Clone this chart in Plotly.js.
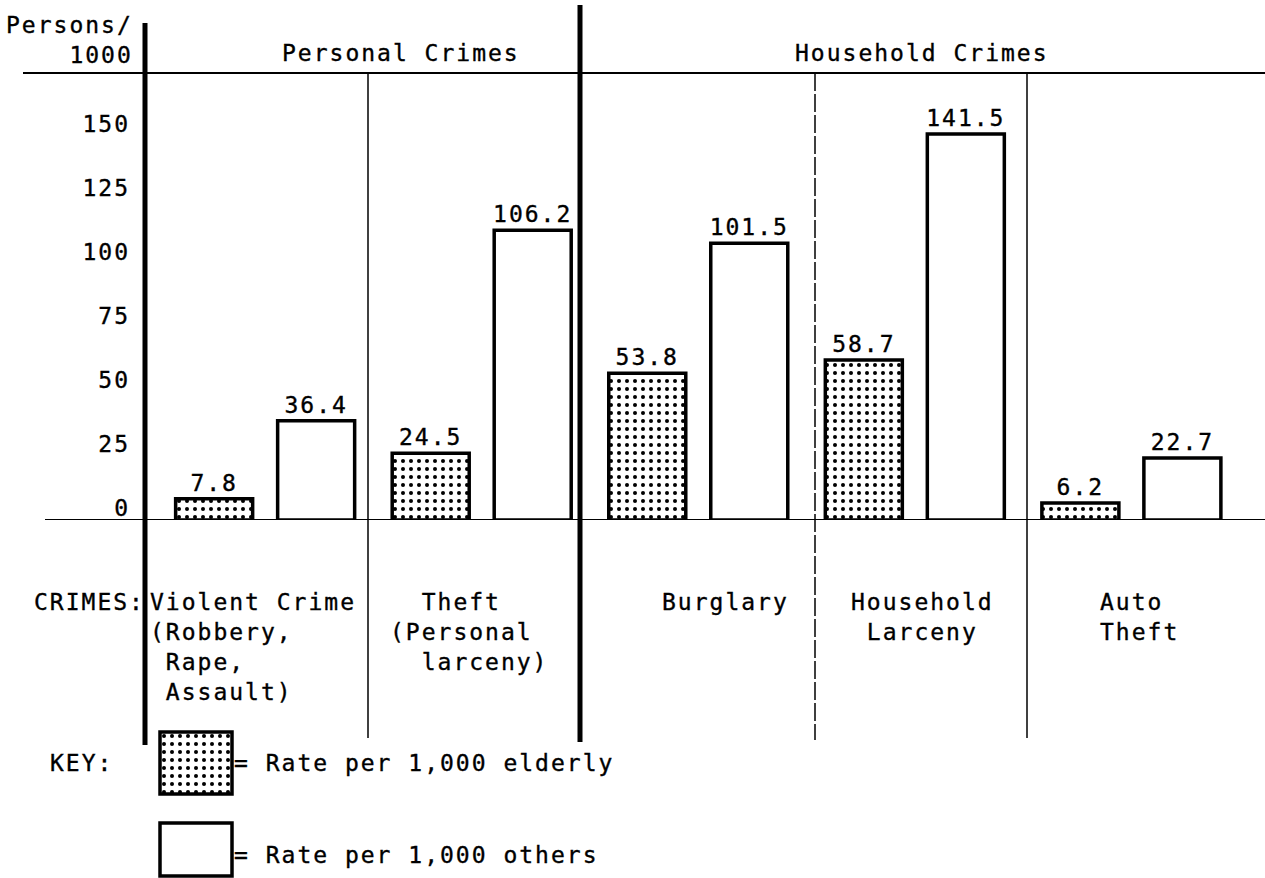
<!DOCTYPE html>
<html><head><meta charset="utf-8">
<script src="https://cdn.plot.ly/plotly-3.0.1.min.js"></script>
<style>
html,body{margin:0;padding:0;background:#fff;}
svg text{letter-spacing:2px; stroke:#000; stroke-width:0.35px;}
</style>
</head><body><div id="chart" style="width:1265px;height:878px;"></div>
<script>
// ---- data ----
const categories = ["Violent Crime", "Theft", "Burglary", "Household Larceny", "Auto Theft"];
const elderlyRates = [7.8, 24.5, 53.8, 58.7, 6.2];
const othersRates = [36.4, 106.2, 101.5, 141.5, 22.7];
const tickValues = [0, 25, 50, 75, 100, 125, 150];
const tickLabels = ["0", "25", "50", "75", "100", "125", "150"];
const groupTitles = ["Personal Crimes", "Household Crimes"];
const crimeLabels = [
  "Violent Crime<br>(Robbery,<br>\u00a0Rape,<br>\u00a0Assault)",
  "\u00a0\u00a0Theft<br>(Personal<br>\u00a0\u00a0larceny)",
  "Burglary",
  "Household<br>Larceny",
  "Auto<br>Theft"
];
const seriesNames = ["Rate per 1,000 elderly", "Rate per 1,000 others"];
const yTitle = "Persons/<br>1000";

// ---- layout helpers (pixel -> paper) ----
const L = 143, T = 73, W = 1122, H = 447;
const px = x => (x - L) / W;
const py = y => (T + H - y) / H;
const FONT = "DejaVu Sans Mono";
const FS = 23;

const dotPattern = {shape: ".", fgcolor: "black", bgcolor: "white", size: 8, solidity: 0.2};

const traces = [
  {
    type: "bar", x: categories, y: elderlyRates, name: seriesNames[0],
    marker: {color: "white", line: {color: "black", width: 3.5}, pattern: dotPattern},
    text: elderlyRates.map(v => v.toFixed(1)), textposition: "outside",
    textfont: {family: FONT, size: FS, color: "black"},
    cliponaxis: false, constraintext: "none", showlegend: false
  },
  {
    type: "bar", x: categories, y: othersRates, name: seriesNames[1],
    marker: {color: "white", line: {color: "black", width: 3.5}},
    text: othersRates.map(v => v.toFixed(1)), textposition: "outside",
    textfont: {family: FONT, size: FS, color: "black"},
    cliponaxis: false, constraintext: "none", showlegend: false
  },
  {type: "scatter", x: [], y: [], yaxis: "y2", showlegend: false, hoverinfo: "skip"}
];

const lineBlack = w => ({color: "black", width: w});
const shapes = [
  // top rule
  {type: "line", xref: "paper", yref: "paper", x0: px(23), x1: 1, y0: 1, y1: 1, line: lineBlack(2)},
  // baseline
  {type: "line", xref: "paper", yref: "y", x0: px(45), x1: 1, y0: 0, y1: 0, line: lineBlack(2)},
  // thick left axis
  {type: "line", xref: "paper", yref: "paper", x0: px(145), x1: px(145), y0: py(23), y1: py(745), line: lineBlack(5)},
  // thick divider personal/household
  {type: "line", xref: "paper", yref: "paper", x0: px(580), x1: px(580), y0: py(5), y1: py(742), line: lineBlack(5)},
  // thin dividers
  {type: "line", xref: "paper", yref: "paper", x0: px(368), x1: px(368), y0: 1, y1: py(738), line: lineBlack(1.5)},
  {type: "line", xref: "paper", yref: "paper", x0: px(815), x1: px(815), y0: 1, y1: py(740), line: {color: "black", width: 1.5, dash: "18px,3px"}},
  {type: "line", xref: "paper", yref: "paper", x0: px(1027), x1: px(1027), y0: 1, y1: py(738), line: lineBlack(1.5)},
  // legend boxes
  {type: "rect", xref: "paper", yref: "paper", x0: px(160), x1: px(232), y0: py(732), y1: py(794), line: lineBlack(3.5), fillcolor: "rgba(0,0,0,0)"},
  {type: "rect", xref: "paper", yref: "paper", x0: px(160), x1: px(232), y0: py(823), y1: py(876), line: lineBlack(3.5), fillcolor: "white"}
];

const dotSVG = 'data:image/svg+xml;utf8,' + encodeURIComponent(
  '<svg xmlns="http://www.w3.org/2000/svg" width="72" height="62" viewBox="0 0 72 62">' +
  '<defs><pattern id="p" width="8" height="8" patternUnits="userSpaceOnUse">' +
  '<circle cx="4" cy="4" r="2" fill="black"/></pattern></defs>' +
  '<rect width="72" height="62" fill="white"/><rect width="72" height="62" fill="url(#p)"/></svg>');

const images = [{
  source: dotSVG, xref: "paper", yref: "paper", x: px(160), y: py(732),
  sizex: 72 / W, sizey: 62 / H, xanchor: "left", yanchor: "top", sizing: "stretch", layer: "above"
}];

const ann = (text, x, y, xanchor, align, yanchor) => ({
  text: text, xref: "paper", yref: "paper", x: px(x), y: py(y),
  xanchor: xanchor, yanchor: yanchor || "top", align: align, showarrow: false,
  font: {family: FONT, size: FS, color: "black"}
});

const annotations = [
  ann(yTitle, 135, 10, "right", "right"),
  ann(groupTitles[0], 401, 53, "center", "center", "middle"),
  ann(groupTitles[1], 922, 53, "center", "center", "middle"),
  ann("CRIMES:", 147, 587, "right", "right"),
  ann(crimeLabels[0], 148, 587, "left", "left"),
  ann(crimeLabels[1], 388, 587, "left", "left"),
  ann(crimeLabels[2], 725, 587, "center", "center"),
  ann(crimeLabels[3], 922, 587, "center", "center"),
  ann(crimeLabels[4], 1098, 587, "left", "left"),
  ann("KEY:", 48, 763, "left", "left", "middle"),
  ann("= " + seriesNames[0], 232, 763, "left", "left", "middle"),
  ann("= " + seriesNames[1], 232, 855, "left", "left", "middle")
];

const layout = {
  width: 1265, height: 878,
  margin: {l: L, r: 0, t: T, b: 878 - T - H, pad: 0},
  paper_bgcolor: "white", plot_bgcolor: "white",
  font: {family: FONT, size: FS, color: "black"},
  barmode: "group", bargap: 0.058, bargroupgap: 0.245,
  showlegend: false,
  xaxis: {type: "category", range: [-0.564, 4.617], showticklabels: false, showgrid: false,
          zeroline: false, showline: false, ticks: ""},
  yaxis: {range: [0, 163.9], showticklabels: false, showgrid: false, zeroline: false, showline: false, ticks: ""},
  yaxis2: {overlaying: "y", side: "left", range: [-4.69, 169.9], tickmode: "array",
           tickvals: tickValues, ticktext: tickLabels, showgrid: false, zeroline: false,
           showline: false, ticks: "", ticklabelstandoff: 12,
           tickfont: {family: FONT, size: FS, color: "black"}},
  shapes: shapes, images: images, annotations: annotations
};

Plotly.newPlot("chart", traces, layout, {displayModeBar: false, staticPlot: true});
</script>
</body></html>
